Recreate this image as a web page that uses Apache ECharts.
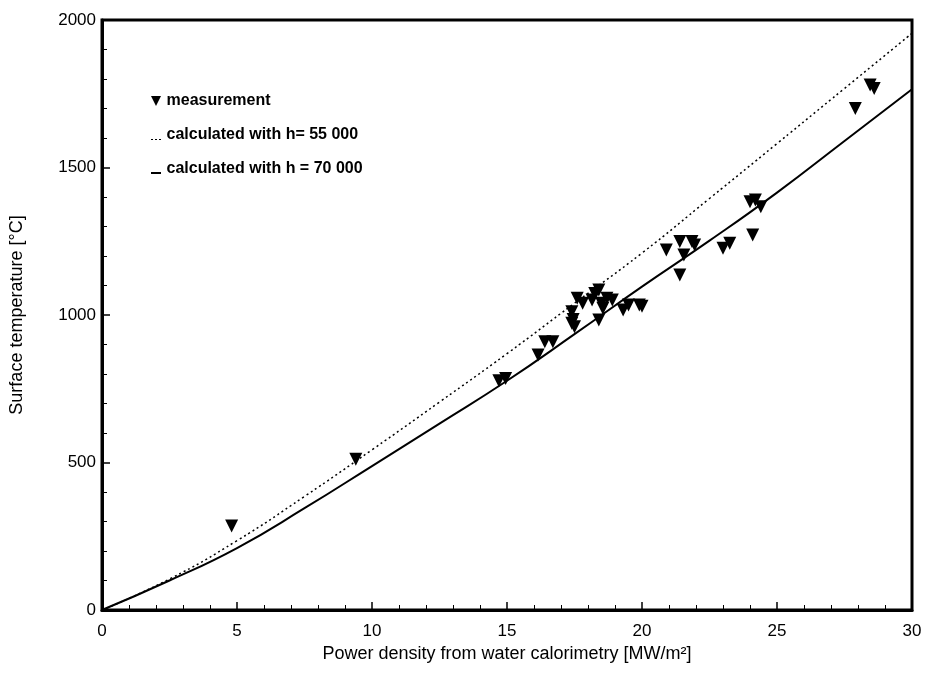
<!DOCTYPE html>
<html>
<head>
<meta charset="utf-8">
<script src="https://cdn.jsdelivr.net/npm/echarts@6/dist/echarts.min.js"></script>
<style>
  html, body { margin: 0; padding: 0; background: #fff; }
  #chart { width: 928px; height: 675px; }
</style>
</head>
<body>
<div id="chart"></div>
<script>
// measured points [power density MW/m², surface temperature °C]
var measurement = [
  [4.8, 285], [9.4, 511],
  [14.7, 777], [14.95, 785], [16.15, 864], [16.4, 909], [16.7, 909],
  [17.4, 972], [17.45, 985], [17.5, 960], [17.4, 1011], [17.6, 1057], [17.8, 1040],
  [18.15, 1051], [18.25, 1073], [18.4, 1085], [18.5, 1040], [18.55, 1023], [18.4, 983],
  [18.7, 1057], [18.9, 1051], [19.3, 1017], [19.5, 1034], [19.9, 1034], [20.0, 1030],
  [20.9, 1220], [21.4, 1249], [21.85, 1249], [21.95, 1237], [21.55, 1203], [21.4, 1136],
  [23.0, 1226], [23.25, 1243], [24.1, 1271],
  [24.0, 1384], [24.2, 1390], [24.4, 1367],
  [27.9, 1700], [28.45, 1780], [28.6, 1768]
];
// curves
var xs = [0, 2.5, 5, 7.5, 10, 12.5, 15, 17.5, 20, 22.5, 25, 27.5, 30];
var calc55 = [0, 105, 235, 385, 543, 705, 869, 1040, 1210, 1395, 1581, 1768, 1955];
var calc70 = [0, 100, 210, 345, 488, 632, 777, 935, 1096, 1252, 1415, 1590, 1765];

var xTicks = [0, 5, 10, 15, 20, 25, 30];
var yTicks = [0, 500, 1000, 1500, 2000];

function pairs(ys) {
  return xs.map(function (x, i) { return [x, ys[i]]; });
}

var chart = echarts.init(document.getElementById("chart"));
var font = "'Liberation Sans', Arial, sans-serif";

var option = {
  animation: false,
  backgroundColor: "#fff",
  grid: {
    left: 102, top: 20, right: 16, bottom: 65,
    show: true, borderColor: "#000", borderWidth: 3
  },
  legend: {
    orient: "vertical",
    left: 146, top: 88,
    itemGap: 18,
    itemWidth: 11, itemHeight: 10,
    textStyle: { fontFamily: font, fontWeight: "bold", fontSize: 16, color: "#000" },
    data: [
      { name: "measurement", icon: "path://M0,0 L10,0 L5,10 Z" },
      { name: "calculated with h= 55 000", icon: "path://M0,9 h2 v1 h-2 Z M4,9 h2 v1 h-2 Z M8,9 h2 v1 h-2 Z M0,0 h0.01 v0.01 h-0.01 Z" },
      { name: "calculated with h = 70 000", icon: "path://M0,8 h10 v2 h-10 Z M0,0 h0.01 v0.01 h-0.01 Z" }
    ]
  },
  xAxis: {
    type: "value",
    min: 0, max: 30, interval: 5,
    name: "Power density from water calorimetry [MW/m²]",
    nameLocation: "middle", nameGap: 34,
    nameTextStyle: { fontFamily: font, fontSize: 18, color: "#000" },
    axisLine: { lineStyle: { color: "#000", width: 3 } },
    axisTick: { inside: true, length: 8, lineStyle: { color: "#000", width: 1.5 } },
    minorTick: { show: true, splitNumber: 5, length: 5, lineStyle: { color: "#000", width: 1 } },
    axisLabel: { fontFamily: font, fontSize: 17, color: "#000", margin: 13 },
    splitLine: { show: false }
  },
  yAxis: {
    type: "value",
    min: 0, max: 2000, interval: 500,
    name: "Surface temperature [°C]",
    nameLocation: "middle", nameGap: 76,
    nameTextStyle: { fontFamily: font, fontSize: 18, color: "#000" },
    axisLine: { lineStyle: { color: "#000", width: 3 } },
    axisTick: { inside: true, length: 8, lineStyle: { color: "#000", width: 1.5 } },
    minorTick: { show: true, splitNumber: 5, length: 5, lineStyle: { color: "#000", width: 1 } },
    axisLabel: {
      fontFamily: font, fontSize: 17, color: "#000", margin: 6,
      formatter: function (v) { return String(v); }
    },
    splitLine: { show: false }
  },
  series: [
    {
      name: "measurement",
      type: "scatter",
      data: measurement,
      symbol: "triangle",
      symbolRotate: 180,
      symbolSize: 13,
      itemStyle: { color: "#000", opacity: 1 },
      z: 5
    },
    {
      name: "calculated with h= 55 000",
      type: "line",
      data: pairs(calc55),
      smooth: true,
      showSymbol: false,
      symbol: "none",
      itemStyle: { color: "#000" },
      lineStyle: { color: "#000", width: 1.5, type: [2, 3] }
    },
    {
      name: "calculated with h = 70 000",
      type: "line",
      data: pairs(calc70),
      smooth: true,
      showSymbol: false,
      symbol: "none",
      itemStyle: { color: "#000" },
      lineStyle: { color: "#000", width: 2 }
    }
  ]
};

chart.setOption(option);
</script>
</body>
</html>
